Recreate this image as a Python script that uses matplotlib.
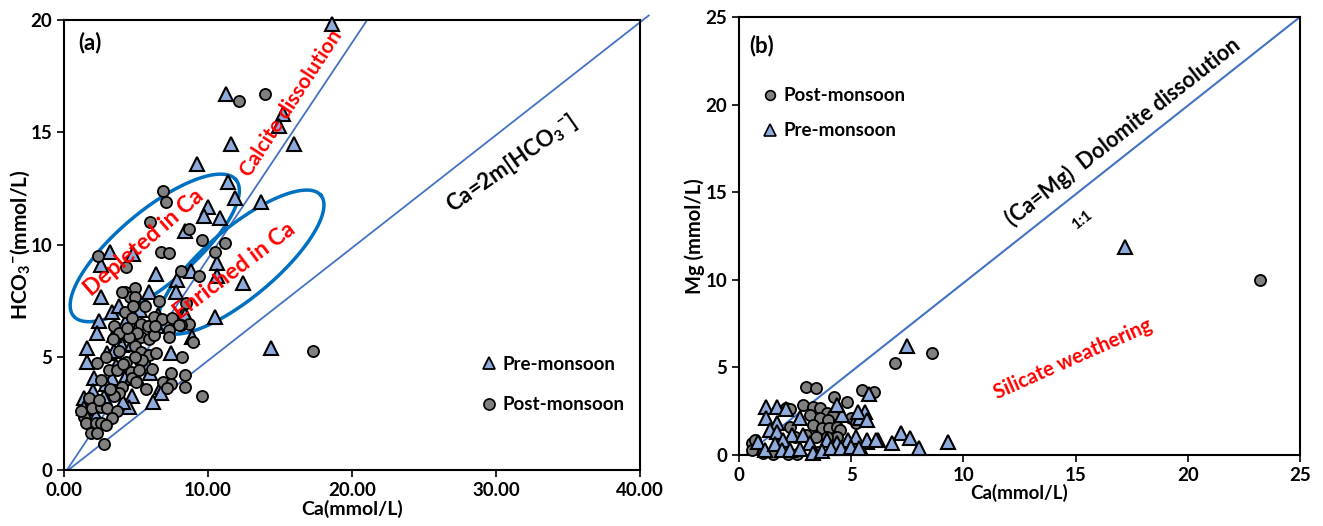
import numpy as np
import matplotlib
matplotlib.use("Agg")
import matplotlib.pyplot as plt
from matplotlib.lines import Line2D

plt.rcParams['font.family'] = ['Lato', 'DejaVu Sans']
plt.rcParams['font.weight'] = 'bold'
plt.rcParams['mathtext.fontset'] = 'custom'
plt.rcParams['mathtext.rm'] = 'Lato:bold'
plt.rcParams['mathtext.bf'] = 'Lato:bold'
plt.rcParams['mathtext.default'] = 'rm'

# ---- panel (a): Ca vs HCO3 ----
pre_a_ca = [18.6, 11.25, 15.2, 14.9, 11.6, 16.0, 9.2, 11.4, 11.9, 13.7, 10.0, 9.7, 10.8, 8.4,
            10.6, 10.6, 12.4, 3.2, 4.8, 2.6, 6.4, 8.8, 7.85, 5.9, 2.6, 7.8, 3.3, 3.8, 2.4, 2.3,
            6.5, 8.3, 10.5, 8.9, 8.4, 6.45, 14.4, 1.6, 1.6, 3.0, 3.5, 4.0, 4.7, 7.4, 2.1, 3.3,
            4.2, 4.65, 5.1, 6.7, 6.7, 1.4, 2.8, 4.7, 4.5, 1.4, 5.0, 5.5, 3.6, 2.9, 4.1, 6.0,
            5.3, 4.3, 2.0, 3.5, 5.8, 6.2, 2.2]
pre_a_hco3 = [19.8, 16.7, 15.8, 15.3, 14.5, 14.5, 13.6, 12.8, 12.1, 11.9, 11.7, 11.3, 11.2, 10.6,
              9.2, 8.6, 8.3, 9.7, 9.6, 9.1, 8.7, 8.85, 8.45, 7.9, 7.7, 7.9, 7.0, 7.3, 6.6, 6.1,
              6.9, 7.0, 6.8, 5.9, 6.9, 6.4, 5.4, 5.4, 4.8, 5.2, 5.3, 5.55, 5.6, 5.2, 4.1, 4.1,
              4.1, 4.1, 4.1, 3.7, 3.4, 3.2, 3.25, 3.3, 2.8, 2.75, 6.2, 5.0, 4.6, 3.8, 3.0, 4.3,
              7.1, 6.6, 3.5, 6.0, 4.6, 3.0, 2.4]

post_a_ca = [12.15, 13.95, 6.9, 7.1, 6.0, 8.7, 9.6, 11.2, 10.5, 6.7, 7.3, 2.35, 4.3, 8.1, 9.4,
             4.9, 4.2, 4.6, 8.5, 8.7, 8.1, 8.95, 17.3, 9.6, 4.0, 4.9, 4.2, 4.7, 5.35, 5.8, 3.5,
             3.8, 6.25, 6.8, 7.5, 8.0, 5.35, 5.9, 6.25, 7.3, 7.3, 3.8, 4.3, 4.9, 5.35, 5.9, 5.4,
             4.9, 6.4, 8.2, 2.3, 3.1, 2.6, 3.7, 4.65, 4.7, 5.2, 5.7, 4.0, 3.8, 3.5, 7.4, 6.9,
             7.4, 7.15, 8.4, 8.4, 1.7, 1.95, 2.6, 3.0, 3.7, 1.4, 1.5, 2.2, 2.6, 1.9, 2.3, 2.8,
             4.8, 5.1, 4.5, 3.4, 2.9, 4.1, 5.0, 6.1, 3.2, 2.4, 1.2, 3.3, 2.9, 4.4, 5.6, 6.6, 6.3]
post_a_hco3 = [16.4, 16.7, 12.4, 11.9, 11.0, 10.7, 10.2, 10.1, 9.7, 9.7, 9.65, 9.5, 9.0, 8.85, 8.6,
               8.1, 7.9, 7.7, 7.4, 6.5, 6.45, 5.7, 5.3, 3.3, 7.9, 7.7, 7.0, 6.75, 6.5, 6.4, 6.4,
               6.1, 6.8, 6.7, 6.75, 6.45, 5.9, 5.8, 6.0, 6.2, 5.9, 5.3, 4.8, 5.5, 5.25, 5.1, 4.9,
               5.0, 5.2, 5.0, 4.75, 4.45, 4.0, 4.45, 4.35, 4.1, 4.45, 3.6, 3.7, 3.4, 3.3, 4.3, 3.9,
               3.8, 3.65, 4.2, 3.7, 3.2, 2.75, 2.8, 2.75, 2.6, 2.35, 2.1, 2.1, 2.1, 1.65, 1.65, 1.15,
               7.3, 6.1, 5.9, 5.8, 5.0, 4.7, 3.9, 4.5, 3.6, 3.1, 2.6, 2.3, 2.0, 6.3, 7.3, 7.5, 6.4]

# ---- panel (b): Ca vs Mg ----
pre_b_ca = [17.2, 7.5, 5.8, 5.6, 5.4, 5.7, 6.2, 7.2, 7.6, 6.8, 8.0, 9.3, 5.4,
            1.2, 1.7, 2.1, 1.2, 1.7, 1.4, 1.7, 4.6, 5.3, 5.7, 2.7, 4.35,
            2.35, 2.85, 1.95, 3.15, 3.9, 4.35, 4.85, 5.2, 5.7, 6.1,
            0.85, 1.15, 1.6, 1.9, 2.25, 2.7, 3.3, 3.7, 4.1, 4.55, 5.0, 5.35]
pre_b_mg = [11.9, 6.2, 3.5, 2.45, 2.1, 0.75, 0.85, 1.25, 0.95, 0.7, 0.4, 0.75, 0.45,
            2.75, 2.75, 2.6, 2.1, 1.8, 1.4, 1.3, 2.3, 2.45, 2.0, 2.1, 2.85,
            1.15, 1.15, 0.85, 0.7, 0.85, 0.7, 0.85, 1.0, 0.85, 0.85,
            0.75, 0.3, 0.6, 0.3, 0.3, 0.35, 0.1, 0.2, 0.4, 0.4, 0.45, 0.4]

post_b_ca = [23.2, 8.6, 6.95, 5.5, 6.0, 3.0, 3.45, 4.25, 4.8, 2.85, 3.3, 3.6, 3.9, 4.2,
             3.15, 3.6, 3.95, 3.3, 3.7, 4.0, 4.35, 2.1, 2.25, 0.6, 0.7, 0.6, 1.05, 1.5,
             2.2, 2.6, 3.5, 2.25, 2.5, 4.5, 4.35, 5.0, 5.2, 3.0, 3.45, 3.9]
post_b_mg = [10.0, 5.8, 5.25, 3.7, 3.6, 3.9, 3.8, 3.3, 3.0, 2.85, 2.75, 2.7, 2.4, 2.3,
             2.3, 2.1, 2.0, 1.7, 1.55, 1.55, 1.6, 2.7, 2.6, 0.7, 0.85, 0.3, 0.1, 0.05,
             0.05, 0.05, 0.15, 1.6, 1.0, 1.4, 1.0, 2.1, 1.8, 1.15, 1.0, 1.0]

tri_color = '#8FAADC'
dot_color = '#808080'
line_color = '#4472C4'
ell_color = '#0070C0'

fig = plt.figure(figsize=(13.23, 5.26), dpi=100)
ax1 = fig.add_axes([0.0484, 0.1065, 0.4354, 0.8555])
ax2 = fig.add_axes([0.5586, 0.135, 0.424, 0.8327])

# panel (a)
ax1.set_xlim(0, 40)
ax1.set_ylim(0, 20)
ax1.plot([0.3, 40.6], [0, 20.2], color=line_color, lw=1.3, clip_on=False, zorder=2)
ax1.plot([0.2, 21.05], [0, 20], color=line_color, lw=1.3, zorder=2)

# ellipses drawn in pixel space, converted back to data units
px_x = 576 / 40.0
px_y = 450 / 20.0
def ellipse(ax, cx, cy, a, b, ang):
    t = np.linspace(0, 2 * np.pi, 200)
    u = a * np.cos(t)
    v = b * np.sin(t)
    r = np.deg2rad(ang)
    dx = u * np.cos(r) - v * np.sin(r)
    dy = u * np.sin(r) + v * np.cos(r)
    ax.plot(cx + dx / px_x, cy + dy / px_y, color=ell_color, lw=2.5, zorder=2)

ellipse(ax1, 6.3, 9.87, 106, 37, 40)
ellipse(ax1, 12.3, 9.24, 104, 35, 40)

ax1.plot(pre_a_ca, pre_a_hco3, '^', ms=10.5, mfc=tri_color, mec='black', mew=1.5,
         ls='none', zorder=3, clip_on=False)
ax1.plot(post_a_ca, post_a_hco3, 'o', ms=8, mfc=dot_color, mec='black', mew=1.3,
         ls='none', zorder=4, clip_on=False)

ax1.text(1.8, 19.0, '(a)', fontsize=16, fontweight='bold', va='center', ha='center')
ax1.text(5.55, 10.1, 'Depleted in Ca', color='red', fontsize=16.5, fontweight='bold',
         rotation=41, ha='center', va='center', zorder=5, rotation_mode='anchor')
ax1.text(11.8, 8.85, 'Enriched in Ca', color='red', fontsize=16.5, fontweight='bold',
         rotation=37, ha='center', va='center', zorder=5, rotation_mode='anchor')
ax1.text(15.8, 16.3, 'Calcite dissolution', color='red', fontsize=15, fontweight='bold',
         rotation=57, ha='center', va='center', zorder=5, rotation_mode='anchor')
ax1.text(31.1, 13.6, 'Ca=2m[HCO$_3$$^{-}$]', color='black', fontsize=16, fontweight='bold',
         rotation=35, ha='center', va='center', rotation_mode='anchor')

ax1.set_xticks([0, 10, 20, 30, 40])
ax1.set_xticklabels(['0.00', '10.00', '20.00', '30.00', '40.00'])
ax1.set_yticks([0, 5, 10, 15, 20])
ax1.set_xlabel('Ca(mmol/L)', fontsize=14, fontweight='bold', labelpad=1)
ax1.set_ylabel('HCO$_3$$^{-}$(mmol/L)', fontsize=15, fontweight='bold', labelpad=-1)

h_pre = Line2D([], [], marker='^', ms=9, mfc=tri_color, mec='black', mew=1.3, ls='none')
h_post = Line2D([], [], marker='o', ms=8, mfc=dot_color, mec='black', mew=1.2, ls='none')
ax1.legend([h_pre, h_post], ['Pre-monsoon', 'Post-monsoon'], frameon=False,
           loc='center left', bbox_to_anchor=(0.706, 0.19), labelspacing=1.25,
           handletextpad=0.2, handlelength=1.0, borderpad=0,
           prop={'size': 13.5, 'weight': 'bold'})

# panel (b)
ax2.set_xlim(0, 25)
ax2.set_ylim(0, 25)
ax2.plot([0.3, 25], [0, 25], color=line_color, lw=1.5, zorder=2)
ax2.plot(post_b_ca, post_b_mg, 'o', ms=8, mfc=dot_color, mec='black', mew=1.3,
         ls='none', zorder=3, clip_on=False)
ax2.plot(pre_b_ca, pre_b_mg, '^', ms=10.5, mfc=tri_color, mec='black', mew=1.5,
         ls='none', zorder=4, clip_on=False)

ax2.text(1.0, 23.4, '(b)', fontsize=16, fontweight='bold', va='center', ha='center')
ax2.text(17.1, 18.45, '(Ca=Mg)  Dolomite dissolution', fontsize=15.5, fontweight='bold',
         rotation=38, ha='center', va='center', rotation_mode='anchor')
ax2.text(15.3, 13.4, '1:1', fontsize=11, fontweight='bold', rotation=38,
         ha='center', va='center', rotation_mode='anchor')
ax2.text(14.9, 5.5, 'Silicate weathering', color='red', fontsize=14.5, fontweight='bold',
         rotation=24, ha='center', va='center', rotation_mode='anchor')

ax2.set_xticks([0, 5, 10, 15, 20, 25])
ax2.set_yticks([0, 5, 10, 15, 20, 25])
ax2.set_xlabel('Ca(mmol/L)', fontsize=13.5, fontweight='bold', labelpad=0)
ax2.set_ylabel('Mg (mmol/L)', fontsize=14.5, fontweight='bold', labelpad=0)

h_post2 = Line2D([], [], marker='o', ms=7, mfc=dot_color, mec='black', mew=1.2, ls='none')
h_pre2 = Line2D([], [], marker='^', ms=8, mfc=tri_color, mec='black', mew=1.2, ls='none')
ax2.legend([h_post2, h_pre2], ['Post-monsoon', 'Pre-monsoon'], frameon=False,
           loc='center left', bbox_to_anchor=(0.022, 0.78), labelspacing=0.95,
           handletextpad=0.2, handlelength=1.0, borderpad=0,
           prop={'size': 13.5, 'weight': 'bold'})

for ax in (ax1, ax2):
    for s in ax.spines.values():
        s.set_linewidth(1.5)
    ax.tick_params(direction='out', length=5, width=1.2, labelsize=13.5)
    for lab in ax.get_xticklabels() + ax.get_yticklabels():
        lab.set_fontweight('bold')

fig.savefig('out.png', dpi=100)
